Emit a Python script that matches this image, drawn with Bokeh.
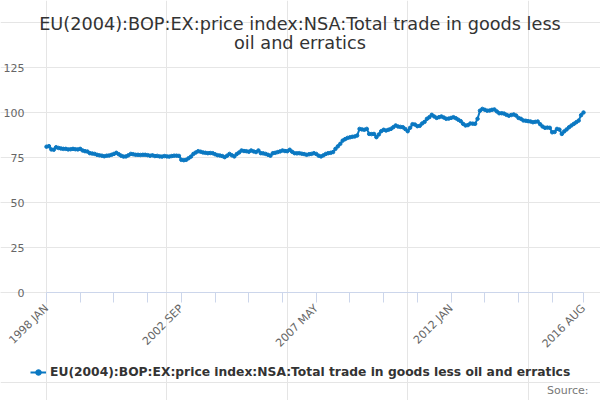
import math
from bokeh.plotting import figure
from bokeh.models import (Range1d, FixedTicker, Legend, LegendItem, Label, LinearAxis, Grid)
from bokeh.embed import file_html
from bokeh.resources import INLINE

# Monthly values, 1998 JAN .. 2016 AUG
v1998 = [81.0, 81.3, 79.5, 79.3, 80.7, 80.3, 80.0, 79.8, 79.8, 79.5, 79.6, 79.8]
v1999 = [79.6, 79.5, 79.8, 78.9, 78.5, 78.3, 77.4, 77.2, 77.0, 76.5, 76.2, 76.0]
v2000 = [75.7, 76.0, 76.1, 76.5, 77.0, 77.6, 76.8, 76.0, 75.5, 75.6, 76.2, 77.0]
v2001 = [76.8, 76.5, 76.5, 76.4, 76.5, 76.5, 76.3, 76.0, 76.2, 75.8, 75.9, 75.6]
v2002 = [75.5, 75.8, 75.6, 75.5, 75.8, 76.0, 76.0, 75.9, 73.7, 73.5, 73.7, 74.6]
v2003 = [75.5, 77.0, 77.8, 78.5, 78.2, 77.8, 77.6, 77.4, 77.5, 77.4, 76.8, 76.3]
v2004 = [76.1, 75.8, 75.2, 76.0, 77.0, 76.2, 75.6, 76.9, 77.8, 78.9, 78.6, 78.5]
v2005 = [78.2, 78.9, 78.4, 78.0, 78.9, 77.4, 77.3, 77.0, 76.5, 76.0, 77.4, 77.6]
v2006 = [78.0, 78.4, 78.9, 78.6, 78.5, 79.3, 78.2, 77.4, 77.3, 77.4, 77.1, 76.9]
v2007 = [76.5, 76.8, 77.0, 77.4, 77.0, 76.0, 75.6, 76.2, 77.0, 77.4, 77.6, 78.0]
v2008 = [79.8, 81.2, 82.6, 84.4, 85.2, 85.9, 86.2, 86.5, 86.7, 87.2, 90.9, 90.6]
v2009 = [90.4, 90.9, 88.1, 88.0, 88.1, 86.3, 87.8, 89.6, 90.4, 90.0, 90.4, 90.9]
v2010 = [91.8, 92.8, 92.2, 92.0, 91.8, 90.8, 89.6, 91.5, 93.5, 93.3, 92.4, 92.6]
v2011 = [93.9, 94.8, 96.5, 97.4, 98.7, 97.8, 97.0, 97.4, 97.8, 97.2, 96.5, 96.6]
v2012 = [97.0, 97.4, 96.8, 96.0, 95.2, 93.7, 92.8, 93.0, 93.9, 93.8, 93.7, 96.5]
v2013 = [101.0, 102.0, 101.5, 101.0, 101.1, 101.5, 101.7, 100.6, 99.6, 99.6, 99.4, 98.7]
v2014 = [98.2, 98.6, 98.9, 98.3, 97.0, 96.5, 95.6, 95.4, 95.2, 95.0, 94.6, 94.8]
v2015 = [95.0, 93.5, 92.2, 91.5, 91.6, 91.5, 89.0, 89.2, 90.9, 90.5, 88.1, 89.5]
v2016 = [90.6, 91.8, 92.8, 93.7, 94.6, 95.5, 98.5, 100.0]

values = (v1998 + v1999 + v2000 + v2001 + v2002 + v2003 + v2004 + v2005 + v2006
          + v2007 + v2008 + v2009 + v2010 + v2011 + v2012 + v2013 + v2014 + v2015 + v2016)
month_index = list(range(len(values)))

tick_positions = [0, 14, 28, 42, 56, 70, 84, 98, 112, 126, 140, 154, 168, 182, 196, 210, 223]
tick_labels = {0: "1998 JAN", 56: "2002 SEP", 112: "2007 MAY", 168: "2012 JAN", 223: "2016 AUG"}
y_ticks = [0, 25, 50, 75, 100, 125]

series_name = "EU(2004):BOP:EX:price index:NSA:Total trade in goods less oil and erratics"
title_line1 = "EU(2004):BOP:EX:price index:NSA:Total trade in goods less"
title_line2 = "oil and erratics"
source_text = "Source:"

FONT = "DejaVu Sans"
BLUE = "#0a78c2"

W, H = 600, 400
# plot area in canvas pixels (left, right, top, bottom)
PL, PR, PT, PB = 46, 583, 67, 292
n_last = len(values) - 1
y_top = y_ticks[-1]
sx = (PR - PL) / n_last
sy = (PB - PT) / y_top
x_range = Range1d(-PL / sx, n_last + (W - PR) / sx)
y_range = Range1d(-(H - PB) / sy, y_top + PT / sy)

p = figure(width=W, height=H, output_backend="svg", toolbar_location=None,
           x_range=x_range, y_range=y_range,
           x_axis_location=None, y_axis_location=None,
           min_border_left=0, min_border_right=0, min_border_top=0, min_border_bottom=0)
p.outline_line_color = None
p.background_fill_color = "white"
p.border_fill_color = "white"

# grid lines only across the data span
p.add_layout(Grid(dimension=1, ticker=FixedTicker(ticks=y_ticks), bounds=(0, n_last),
                  grid_line_color="#e6e6e6", grid_line_width=1))

line = p.line(month_index, values, line_color=BLUE, line_width=2)
dots = p.scatter(month_index, values, size=3.5, fill_color=BLUE, line_color=BLUE)

# y axis at x = 0
yax = LinearAxis(fixed_location=0, ticker=FixedTicker(ticks=y_ticks),
                 axis_line_color=None, major_tick_line_color=None, minor_tick_line_color=None,
                 major_label_text_font=FONT, major_label_text_font_size="11px",
                 major_label_text_color="#666666", major_label_standoff=16)
p.add_layout(yax, "left")

# x axis at y = 0
xax = LinearAxis(fixed_location=0, ticker=FixedTicker(ticks=tick_positions),
                 bounds=(0, n_last),
                 major_label_overrides={t: tick_labels.get(t, "") for t in tick_positions},
                 axis_line_color="#ccd6eb", major_tick_line_color="#ccd6eb",
                 major_tick_out=10, major_tick_in=0, minor_tick_line_color=None,
                 major_label_orientation=math.pi / 4,
                 major_label_text_font=FONT, major_label_text_font_size="11px",
                 major_label_text_color="#666666", major_label_standoff=4)
p.add_layout(xax, "below")

# title lines
for txt, ycen in ((title_line1, 23), (title_line2, 42)):
    p.add_layout(Label(x=299.5, y=H - ycen, x_units="screen", y_units="screen", text=txt,
                       text_align="center", text_baseline="middle", text_font=FONT,
                       text_font_size="17.7px", text_color="#333333"))

legend = Legend(items=[LegendItem(label=series_name, renderers=[line, dots])],
                orientation="horizontal", location=(30, H - 372 - 7),
                label_text_font=FONT, label_text_font_size="12.3px",
                label_text_font_style="bold", label_text_color="#333333",
                glyph_width=16, glyph_height=14, label_standoff=4, border_line_color=None,
                background_fill_alpha=0, padding=0, margin=0)
p.add_layout(legend, "center")

p.add_layout(Label(x=588, y=H - 390, x_units="screen", y_units="screen", text=source_text,
                   text_align="right", text_baseline="middle", text_font=FONT,
                   text_font_size="11px", text_color="#777777"))

open("out.html", "w").write(file_html(p, INLINE))
